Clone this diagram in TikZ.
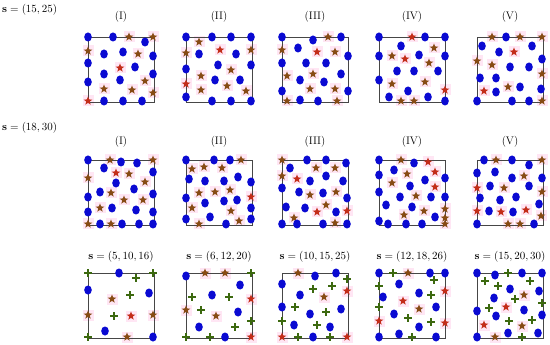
\documentclass[tikz,border=0pt]{standalone}
\usepackage{amsmath}
\usepackage{tikz}

\definecolor{dotblue}{RGB}{10,10,210}
\definecolor{sb}{RGB}{135,75,20}
\definecolor{sr}{RGB}{195,45,25}
\definecolor{starbg}{RGB}{255,230,244}
\definecolor{plusgreen}{RGB}{60,105,15}
\definecolor{framegray}{RGB}{70,70,70}

\tikzset{
  starmark/.pic={\fill[#1] (90:4.6pt) -- (126:1.9pt) -- (162:4.6pt) -- (198:1.9pt) -- (234:4.6pt) -- (270:1.9pt) -- (306:4.6pt) -- (342:1.9pt) -- (18:4.6pt) -- (54:1.9pt) -- cycle;},
  plusmark/.pic={\draw[plusgreen, line width=1.2pt] (-3.6pt,0) -- (3.6pt,0) (0,-3.6pt) -- (0,3.6pt);},
  frame/.style={framegray, line width=0.9pt},
  lab/.style={inner sep=0pt, font=\fontsize{11}{13}\selectfont}
}

% una caixa de mostra: cantonada, cercles, estrelles
\newcommand{\sampbox}[3]{%
  \begin{scope}[shift={#1}]
    \foreach \x/\y/\col in {#3} \fill[starbg] (\x-5.5,\y-5.5) rectangle (\x+5.5,\y+5.5);
    \draw[frame] (0,0) rectangle (66,65);
    \foreach \x/\y/\col in {#3} \pic at (\x,\y) {starmark=s\col};
    \foreach \x/\y in {#2} \fill[dotblue] (\x,\y) ellipse (3.8pt and 4.5pt);
  \end{scope}}
% creus verdes (nomes la tercera fila)
\newcommand{\plusmarks}[2]{%
  \begin{scope}[shift={#1}]
    \foreach \x/\y in {#2} \pic at (\x,\y) {plusmark};
  \end{scope}}

\begin{document}
\begin{tikzpicture}[x=1pt, y=-1pt]
    \useasboundingbox (0,0) rectangle (550,345);

    % ETIQUETES
    \node[lab, anchor=west] (sfirst) at (2,10) {$\mathbf{s}=(15,25)$};
    \node[lab, anchor=west] (ssecond) at (2,128) {$\mathbf{s}=(18,30)$};
    \foreach \cx/\r in {121/I, 219/II, 315/III, 412/IV, 510/V} {
        \node[lab] (topcol\r) at (\cx,17) {(\r)};
        \node[lab] (midcol\r) at (\cx,142) {(\r)};
    }
    \foreach \cx/\t/\nm in {121/{5,10,16}/a, 219/{6,12,20}/b, 315/{10,15,25}/c, 412/{12,18,26}/d, 510/{15,20,30}/e}
        \node[lab] (third\nm) at (\cx,257) {$\mathbf{s}=(\t)$};

    % FILA 1: s=(15,25)
    \sampbox{(88,37)}{0/0,25/0,57/5,16/17,35/15,0/26,65/19,47/30,16/37,65/37,32/43,0/45,16/64,35/64,54/64}
        {41/0/b,65/0/b,0/14/b,50/17/b,32/31/r,57/44/b,16/52/b,44/53/b,65/56/b,0/64/r}
    \sampbox{(186,37)}{0/0,26/0,45/0,65/0,13/17,50/17,0/32,32/28,65/28,29/43,54/43,0/60,26/64,45/64,65/64}
        {13/5/b,0/16/b,34/13/r,65/13/b,45/33/b,15/39/b,0/47/r,15/53/b,41/49/b,60/54/b}
    \sampbox{(282,37)}{0/0,31/3,59/0,16/11,66/19,0/26,24/26,44/26,59/37,18/43,42/45,0/54,66/54,18/63,36/64}
        {46/0/b,0/13/b,35/15/r,53/15/b,31/37/b,5/39/b,28/52/b,53/52/b,5/64/b,55/64/b}
    \sampbox{(379,37)}{0/0,46/0,66/0,22/9,0/19,40/18,66/19,18/34,35/34,59/34,0/43,29/54,10/60,49/60,66/64}
        {33/0/r,55/11/b,13/19/b,26/22/r,50/26/b,13/47/b,46/45/b,66/53/r,22/64/b,35/64/b}
    \sampbox{(477,37)}{29/0,5/9,22/15,55/9,65/22,33/30,52/30,3/41,19/41,43/50,64/52,19/55,0/64,35/64,52/64}
        {15/0/b,43/0/b,65/0/b,37/15/r,0/24/b,15/28/b,65/37/b,31/50/b,7/54/r,65/64/b}

    % FILA 2: s=(18,30)
    \sampbox{(88,160)}{0/0,33/2,49/3,16/8,65/12,28/23,12/32,46/29,65/34,0/37,24/48,48/50,0/52,65/52,12/64,34/64,51/64,65/64}
        {22/0/b,65/0/b,28/13/r,41/14/b,0/18/b,57/22/b,23/33/b,36/40/b,55/40/b,12/48/b,0/64/b,23/64/b}
    \sampbox{(186,160)}{0/0,28/0,44/0,3/19,19/21,38/21,52/17,65/22,0/38,19/43,38/41,51/40,65/48,24/57,0/59,65/59,40/64}
        {55/0/b,6/9/b,18/7/b,36/8/b,13/33/b,29/32/b,44/30/b,65/37/r,6/48/b,45/51/b,53/61/b,13/64/b}
    \sampbox{(282,160)}{25/0,44/0,64/3,8/8,28/21,44/16,61/21,0/28,17/32,41/33,65/38,4/47,23/48,54/52,0/64,15/64,41/64,65/64}
        {0/0/b,34/8/b,53/8/b,0/16/b,15/19/r,28/35/b,54/32/b,44/45/b,35/52/r,65/51/r,12/58/b,53/63/b}
    \sampbox{(379,160)}{0/0,35/3,15/10,0/15,66/18,46/20,31/26,0/32,21/37,52/37,66/37,7/45,33/47,56/57,0/61,9/64,27/64,43/64}
        {22/0/b,49/2/r,28/14/b,56/12/r,13/23/b,56/27/r,37/36/b,45/51/b,66/49/b,25/55/b,66/58/b,66/64/b}
    \sampbox{(477,160)}{7/0,35/0,52/5,0/13,18/12,35/18,65/18,13/26,52/26,3/38,23/40,39/37,62/44,12/51,36/52,0/64,57/64}
        {19/0/b,65/0/b,47/16/b,0/28/r,27/28/b,65/32/b,0/51/r,24/52/r,49/50/r,64/56/b,31/64/b,43/64/b}

    % FILA 3: tres tipus de punts
    \sampbox{(88,273)}{31/0,0/17,61/20,17/58,65/64}
        {24/26/b,0/42/b,43/43/r,65/42/b,39/64/b}
    \plusmarks{(88,273)}{0/0,65/0,48/5,42/22,26/43,0/64}
    \sampbox{(186,273)}{0/3,54/12,26/22,52/39,13/54,39/64}
        {19/0/b,39/0/b,65/26/r,0/37/b,30/43/b,65/64/r}
    \plusmarks{(186,273)}{65/0,6/24,43/24,15/37,65/48,49/54,0/64,24/64}
    \sampbox{(282,273)}{33/3,54/0,0/11,18/22,0/34,59/36,28/41,12/52,48/54,31/64}
        {16/0/b,65/18/r,42/24/b,0/64/r,65/64/r}
    \plusmarks{(282,273)}{65/6,31/16,50/13,13/34,44/39,0/48,35/52,16/64,48/64}
    \sampbox{(379,273)}{0/0,51/0,66/0,20/11,4/24,40/20,57/34,15/41,40/54,0/64,20/61,57/64}
        {29/0/b,66/18/r,24/28/r,40/36/b,0/48/r,66/50/r}
    \plusmarks{(379,273)}{14/0,55/7,0/13,52/22,0/34,29/45,52/49,33/64}
    \sampbox{(477,273)}{0/0,18/2,45/0,65/0,33/16,62/18,17/25,0/38,47/37,19/43,65/42,0/64,31/60,61/60}
        {47/22/b,29/34/r,7/52/r,18/64/b,45/53/b}
    \plusmarks{(477,273)}{31/0,8/8,21/13,53/8,38/26,65/30,12/35,32/48,55/47,45/64}

\end{tikzpicture}
\end{document}
